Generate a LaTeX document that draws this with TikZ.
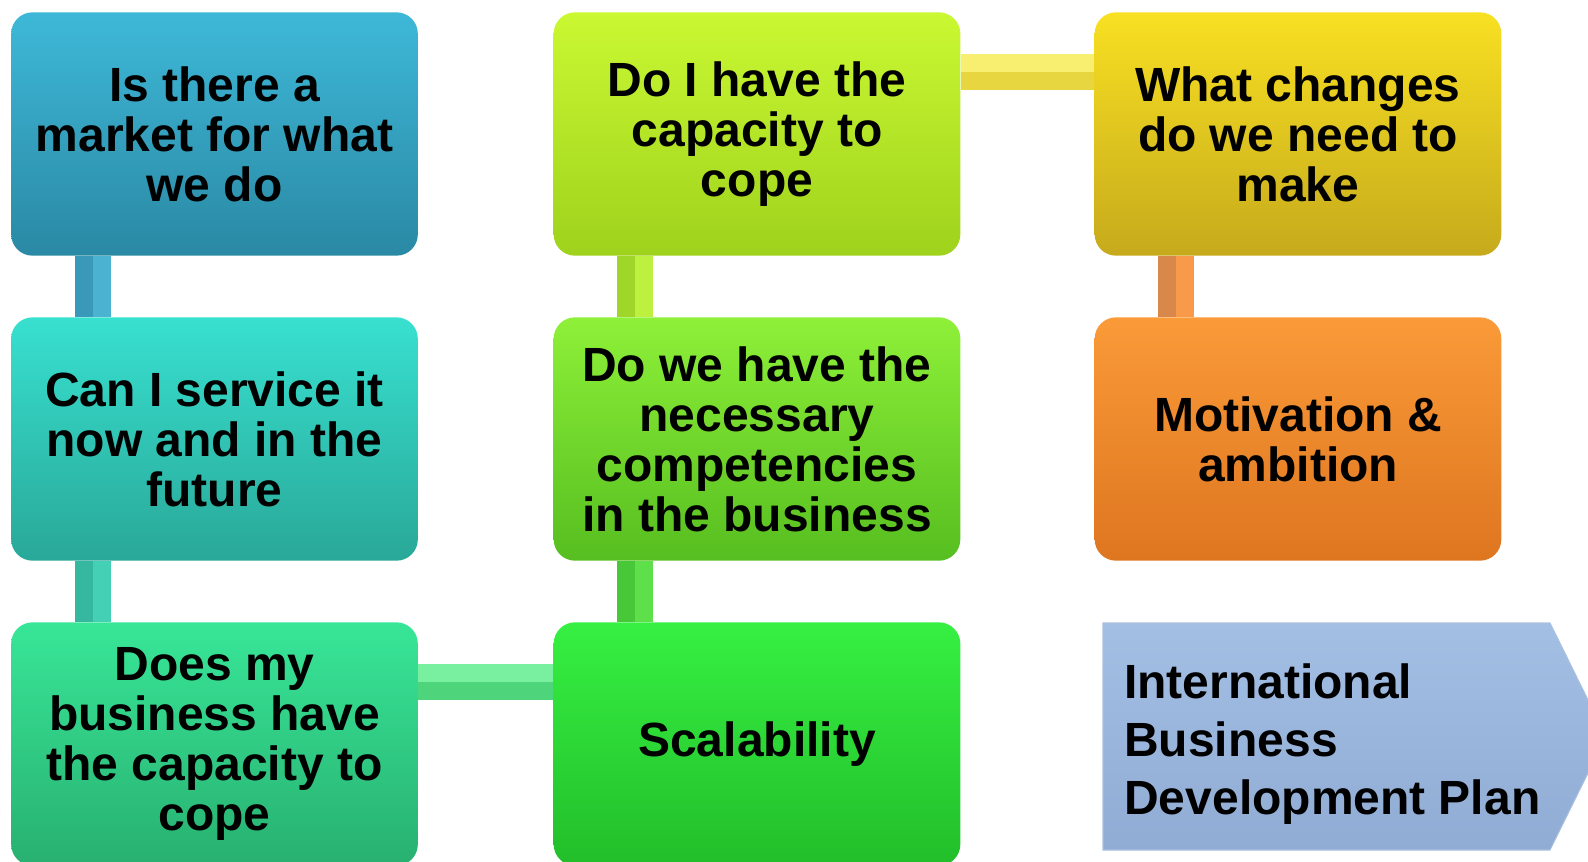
\documentclass[tikz,border=0pt]{standalone}
\usepackage{fontspec}
\setmainfont{Liberation Sans}
\usetikzlibrary{calc}
\definecolor{bAt}{HTML}{3EB8D8}\definecolor{bAb}{HTML}{2A89A4}
\definecolor{bBt}{HTML}{38E0D0}\definecolor{bBb}{HTML}{29A898}
\definecolor{bCt}{HTML}{38E698}\definecolor{bCb}{HTML}{28B070}
\definecolor{cAt}{HTML}{CAF832}\definecolor{cAb}{HTML}{9ED21C}
\definecolor{cBt}{HTML}{8EF038}\definecolor{cBb}{HTML}{56BE20}
\definecolor{cCt}{HTML}{36F042}\definecolor{cCb}{HTML}{22BE2A}
\definecolor{dAt}{HTML}{F8E022}\definecolor{dAb}{HTML}{C6AA1C}
\definecolor{dBt}{HTML}{FA9A38}\definecolor{dBb}{HTML}{DE7620}
\definecolor{arT}{HTML}{A4BFE4}\definecolor{arB}{HTML}{90ACD4}
\definecolor{arE}{HTML}{A9C0E0}
% connector colours (dark, light)
\definecolor{kAd}{HTML}{3A98B8}\definecolor{kAl}{HTML}{4CB2D2}
\definecolor{kBd}{HTML}{36B8A0}\definecolor{kBl}{HTML}{44D0B4}
\definecolor{kCd}{HTML}{4ED47A}\definecolor{kCl}{HTML}{78F0A0}
\definecolor{kDd}{HTML}{A0D62A}\definecolor{kDl}{HTML}{BEF040}
\definecolor{kEd}{HTML}{48C838}\definecolor{kEl}{HTML}{5EE04A}
\definecolor{kFd}{HTML}{E8D640}\definecolor{kFl}{HTML}{F8EE70}
\definecolor{kGd}{HTML}{D8884A}\definecolor{kGl}{HTML}{F89A4A}
\begin{document}
\begin{tikzpicture}[x=0.75pt,y=-0.75pt,
  box/.style={rounded corners=16pt, minimum width=305pt, minimum height=182.5pt,
    align=center, inner sep=0pt, font=\bfseries\fontsize{36}{37.5}\selectfont},
  half/.style={line width=13.5pt},
]
\useasboundingbox (0,0) rectangle (1588,861);
\clip (0,0) rectangle (1588,861);

% boxes
\node[box, top color=bAt, bottom color=bAb] (b1) at (214.5,134) {Is there a\\market for what\\we do};
\node[box, top color=bBt, bottom color=bBb] (b2) at (214.5,439) {Can I service it\\now and in the\\future};
\node[box, top color=bCt, bottom color=bCb] (b3) at (214.5,744) {Does my\\business have\\the capacity to\\cope};
\node[box, top color=cAt, bottom color=cAb] (c1) at (757,134) {Do I have the\\capacity to\\cope};
\node[box, top color=cBt, bottom color=cBb] (c2) at (757,439) {Do we have the\\necessary\\competencies\\in the business};
\node[box, top color=cCt, bottom color=cCb] (c3) at (757,744) {Scalability};
\node[box, top color=dAt, bottom color=dAb] (d1) at (1298,134) {What changes\\do we need to\\make};
\node[box, top color=dBt, bottom color=dBb] (d2) at (1298,439) {Motivation \&\\ambition};

% arrow
\path[top color=arT, bottom color=arB, draw=arE, line width=0.8pt]
  (1103,623) -- (1550,623) -- (1606,736.5) -- (1550,850) -- (1103,850) -- cycle;
\node[anchor=west, align=left, inner sep=0pt,
  font=\bfseries\fontsize{36}{43.5}\selectfont] (plan) at (1124,744)
  {International\\Business\\Development Plan};

% vertical connectors
\draw[half, kAd] ($(b1.south west)+(73,0)$) -- ($(b2.north west)+(73,0)$);
\draw[half, kAl] ($(b1.south west)+(91,0)$) -- ($(b2.north west)+(91,0)$);
\draw[half, kBd] ($(b2.south west)+(73,0)$) -- ($(b3.north west)+(73,0)$);
\draw[half, kBl] ($(b2.south west)+(91,0)$) -- ($(b3.north west)+(91,0)$);
\draw[half, kDd] ($(c1.south west)+(73,0)$) -- ($(c2.north west)+(73,0)$);
\draw[half, kDl] ($(c1.south west)+(91,0)$) -- ($(c2.north west)+(91,0)$);
\draw[half, kEd] ($(c2.south west)+(73,0)$) -- ($(c3.north west)+(73,0)$);
\draw[half, kEl] ($(c2.south west)+(91,0)$) -- ($(c3.north west)+(91,0)$);
\draw[half, kGd] ($(d1.south west)+(73,0)$) -- ($(d2.north west)+(73,0)$);
\draw[half, kGl] ($(d1.south west)+(91,0)$) -- ($(d2.north west)+(91,0)$);
% horizontal connectors
\draw[half, kCl] ($(b3.north east)+(0,51)$) -- ($(c3.north west)+(0,51)$);
\draw[half, kCd] ($(b3.north east)+(0,69)$) -- ($(c3.north west)+(0,69)$);
\draw[half, kFl] ($(c1.north east)+(0,51)$) -- ($(d1.north west)+(0,51)$);
\draw[half, kFd] ($(c1.north east)+(0,69)$) -- ($(d1.north west)+(0,69)$);
\end{tikzpicture}
\end{document}
